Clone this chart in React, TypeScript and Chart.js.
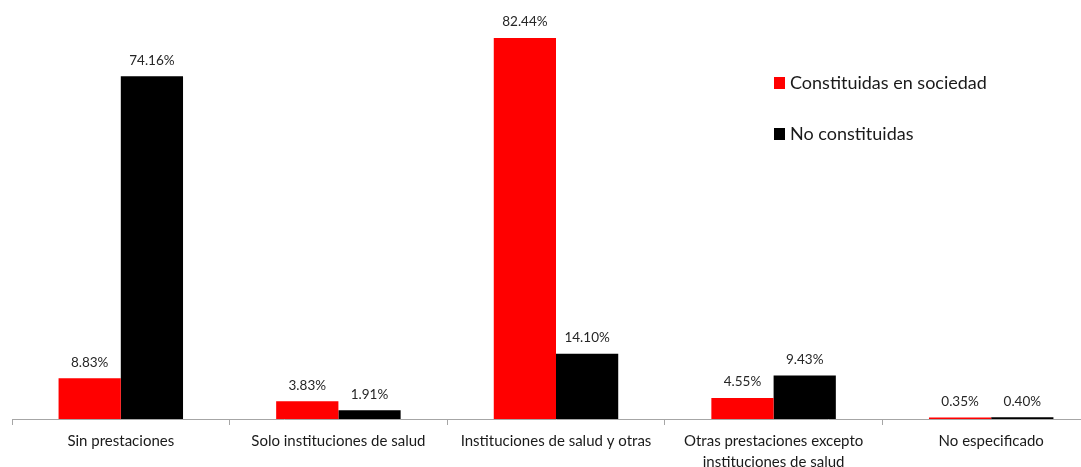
import React, { useEffect, useRef } from "react";
import { Chart, registerables } from "chart.js";

Chart.register(...registerables);

const categories: (string | string[])[] = [
  "Sin prestaciones",
  "Solo instituciones de salud",
  "Instituciones de salud y otras",
  ["Otras prestaciones excepto", "instituciones de salud"],
  "No especificado",
];
const seriesNames = ["Constituidas en sociedad", "No constituidas"];
const constituidas = [8.83, 3.83, 82.44, 4.55, 0.35];
const noConstituidas = [74.16, 1.91, 14.1, 9.43, 0.4];
const colors = ["#ff0000", "#000000"];

const FONT = "Lato, 'Open Sans', sans-serif";

const valueLabels = {
  id: "valueLabels",
  afterDatasetsDraw(chart: any) {
    const ctx = chart.ctx;
    ctx.save();
    ctx.font = `13.5px ${FONT}`;
    ctx.fillStyle = "#262626";
    ctx.textAlign = "center";
    ctx.textBaseline = "middle";
    chart.data.datasets.forEach((ds: any, i: number) => {
      const meta = chart.getDatasetMeta(i);
      meta.data.forEach((bar: any, j: number) => {
        const v = ds.data[j] as number;
        ctx.fillText(v.toFixed(2) + "%", bar.x, bar.y - 16);
      });
    });
    ctx.restore();
  },
};

const customLegend = {
  id: "customLegend",
  afterDraw(chart: any) {
    const ctx = chart.ctx;
    ctx.save();
    ctx.font = `18px ${FONT}`;
    ctx.textBaseline = "middle";
    ctx.textAlign = "left";
    const ys = [83, 134];
    seriesNames.forEach((name, i) => {
      ctx.fillStyle = colors[i];
      ctx.fillRect(774, ys[i] - 6, 11, 12);
      ctx.fillStyle = "#1a1a1a";
      ctx.fillText(name, 790, ys[i]);
    });
    ctx.restore();
  },
};

export default function App() {
  const ref = useRef<HTMLCanvasElement>(null);
  useEffect(() => {
    document.body.style.margin = "0";
    const chart = new Chart(ref.current!, {
      type: "bar",
      data: {
        labels: categories,
        datasets: [
          {
            label: seriesNames[0],
            data: constituidas,
            backgroundColor: colors[0],
            categoryPercentage: 0.572,
            barPercentage: 1,
          },
          {
            label: seriesNames[1],
            data: noConstituidas,
            backgroundColor: colors[1],
            categoryPercentage: 0.572,
            barPercentage: 1,
          },
        ],
      },
      options: {
        animation: false,
        responsive: false,
        maintainAspectRatio: false,
        layout: { padding: { left: 12, right: 0, top: 3, bottom: 0 } },
        plugins: { legend: { display: false }, tooltip: { enabled: false } },
        scales: {
          y: {
            display: false,
            min: 0,
            max: 90,
          },
          x: {
            afterFit(scale: any) {
              scale.height = 48;
            },
            border: { display: true, color: "#a6a6a6", width: 1 },
            grid: {
              offset: true,
              drawOnChartArea: false,
              drawTicks: true,
              tickLength: 6,
              color: "#a6a6a6",
            },
            ticks: {
              color: "#1a1a1a",
              font: { family: FONT, size: 15, lineHeight: 1.4 },
              padding: 6,
              maxRotation: 0,
              autoSkip: false,
            },
          },
        },
      },
      plugins: [valueLabels, customLegend],
    });
    return () => chart.destroy();
  }, []);
  return (
    <div style={{ width: 1081, height: 467, overflow: "hidden", background: "#fff" }}>
      <canvas ref={ref} width={1100} height={467} style={{ width: 1100, height: 467, display: "block" }} />
    </div>
  );
}
